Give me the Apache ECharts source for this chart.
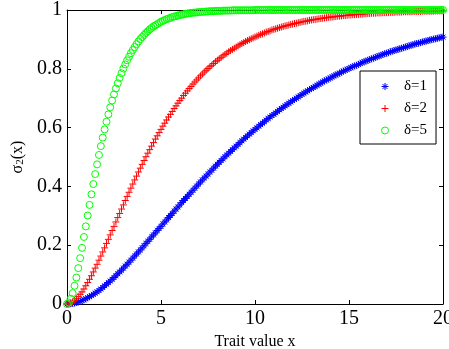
<!DOCTYPE html>
<html>
<head>
<meta charset="utf-8">
<script src="https://cdn.jsdelivr.net/npm/echarts@6/dist/echarts.min.js"></script>
<style>
html,body{margin:0;padding:0;background:#fff;}
#chart{width:449px;height:349px;}
</style>
</head>
<body>
<div id="chart"></div>
<script>
// Trait value x (sample positions)
var xs = [
0,0.1,0.2,0.3,0.4,0.5,0.6,0.7,0.8,0.9,
1,1.1,1.2,1.3,1.4,1.5,1.6,1.7,1.8,1.9,
2,2.1,2.2,2.3,2.4,2.5,2.6,2.7,2.8,2.9,
3,3.1,3.2,3.3,3.4,3.5,3.6,3.7,3.8,3.9,
4,4.1,4.2,4.3,4.4,4.5,4.6,4.7,4.8,4.9,
5,5.1,5.2,5.3,5.4,5.5,5.6,5.7,5.8,5.9,
6,6.1,6.2,6.3,6.4,6.5,6.6,6.7,6.8,6.9,
7,7.1,7.2,7.3,7.4,7.5,7.6,7.7,7.8,7.9,
8,8.1,8.2,8.3,8.4,8.5,8.6,8.7,8.8,8.9,
9,9.1,9.2,9.3,9.4,9.5,9.6,9.7,9.8,9.9,
10,10.1,10.2,10.3,10.4,10.5,10.6,10.7,10.8,10.9,
11,11.1,11.2,11.3,11.4,11.5,11.6,11.7,11.8,11.9,
12,12.1,12.2,12.3,12.4,12.5,12.6,12.7,12.8,12.9,
13,13.1,13.2,13.3,13.4,13.5,13.6,13.7,13.8,13.9,
14,14.1,14.2,14.3,14.4,14.5,14.6,14.7,14.8,14.9,
15,15.1,15.2,15.3,15.4,15.5,15.6,15.7,15.8,15.9,
16,16.1,16.2,16.3,16.4,16.5,16.6,16.7,16.8,16.9,
17,17.1,17.2,17.3,17.4,17.5,17.6,17.7,17.8,17.9,
18,18.1,18.2,18.3,18.4,18.5,18.6,18.7,18.8,18.9,
19,19.1,19.2,19.3,19.4,19.5,19.6,19.7,19.8,19.9,
20
];
// δ=1
var delta1 = [
0,0.000,0.001,0.002,0.003,0.005,0.007,0.009,0.012,0.014,
0.018,0.021,0.025,0.028,0.033,0.037,0.041,0.046,0.051,0.056,
0.062,0.067,0.073,0.078,0.084,0.090,0.096,0.103,0.109,0.115,
0.122,0.129,0.135,0.142,0.149,0.156,0.163,0.170,0.177,0.184,
0.191,0.198,0.206,0.213,0.220,0.228,0.235,0.242,0.250,0.257,
0.264,0.272,0.279,0.286,0.294,0.301,0.308,0.316,0.323,0.330,
0.337,0.345,0.352,0.359,0.366,0.373,0.380,0.387,0.394,0.401,
0.408,0.415,0.422,0.429,0.435,0.442,0.449,0.455,0.462,0.469,
0.475,0.482,0.488,0.494,0.501,0.507,0.513,0.519,0.525,0.531,
0.537,0.543,0.549,0.555,0.561,0.566,0.572,0.578,0.583,0.589,
0.594,0.599,0.605,0.610,0.615,0.620,0.626,0.631,0.636,0.641,
0.645,0.650,0.655,0.660,0.665,0.669,0.674,0.678,0.683,0.687,
0.692,0.696,0.700,0.704,0.709,0.713,0.717,0.721,0.725,0.729,
0.733,0.736,0.740,0.744,0.748,0.751,0.755,0.759,0.762,0.765,
0.769,0.772,0.776,0.779,0.782,0.785,0.789,0.792,0.795,0.798,
0.801,0.804,0.807,0.810,0.812,0.815,0.818,0.821,0.824,0.826,
0.829,0.831,0.834,0.836,0.839,0.841,0.844,0.846,0.849,0.851,
0.853,0.855,0.858,0.860,0.862,0.864,0.866,0.868,0.870,0.872,
0.874,0.876,0.878,0.880,0.882,0.884,0.886,0.887,0.889,0.891,
0.893,0.894,0.896,0.898,0.899,0.901,0.902,0.904,0.905,0.907,
0.908
];
// δ=2
var delta2 = [
0,0.001,0.003,0.007,0.012,0.018,0.025,0.033,0.041,0.051,
0.062,0.073,0.084,0.096,0.109,0.122,0.135,0.149,0.163,0.177,
0.191,0.206,0.220,0.235,0.250,0.264,0.279,0.294,0.308,0.323,
0.337,0.352,0.366,0.380,0.394,0.408,0.422,0.435,0.449,0.462,
0.475,0.488,0.501,0.513,0.525,0.537,0.549,0.561,0.572,0.583,
0.594,0.605,0.615,0.626,0.636,0.645,0.655,0.665,0.674,0.683,
0.692,0.700,0.709,0.717,0.725,0.733,0.740,0.748,0.755,0.762,
0.769,0.776,0.782,0.789,0.795,0.801,0.807,0.812,0.818,0.824,
0.829,0.834,0.839,0.844,0.849,0.853,0.858,0.862,0.866,0.870,
0.874,0.878,0.882,0.886,0.889,0.893,0.896,0.899,0.902,0.905,
0.908,0.911,0.914,0.917,0.919,0.922,0.925,0.927,0.929,0.932,
0.934,0.936,0.938,0.940,0.942,0.944,0.946,0.947,0.949,0.951,
0.952,0.954,0.955,0.957,0.958,0.960,0.961,0.962,0.963,0.965,
0.966,0.967,0.968,0.969,0.970,0.971,0.972,0.973,0.974,0.975,
0.976,0.976,0.977,0.978,0.979,0.979,0.980,0.981,0.981,0.982,
0.983,0.983,0.984,0.984,0.985,0.985,0.986,0.986,0.987,0.987,
0.988,0.988,0.989,0.989,0.989,0.990,0.990,0.990,0.991,0.991,
0.991,0.992,0.992,0.992,0.992,0.993,0.993,0.993,0.993,0.994,
0.994,0.994,0.994,0.994,0.995,0.995,0.995,0.995,0.995,0.996,
0.996,0.996,0.996,0.996,0.996,0.996,0.997,0.997,0.997,0.997,
0.997
];
// δ=5
var delta5 = [
0,0.005,0.018,0.037,0.062,0.090,0.122,0.156,0.191,0.228,
0.264,0.301,0.337,0.373,0.408,0.442,0.475,0.507,0.537,0.566,
0.594,0.620,0.645,0.669,0.692,0.713,0.733,0.751,0.769,0.785,
0.801,0.815,0.829,0.841,0.853,0.864,0.874,0.884,0.893,0.901,
0.908,0.915,0.922,0.928,0.934,0.939,0.944,0.948,0.952,0.956,
0.960,0.963,0.966,0.969,0.971,0.973,0.976,0.978,0.979,0.981,
0.983,0.984,0.985,0.987,0.988,0.989,0.990,0.991,0.991,0.992,
0.993,0.993,0.994,0.994,0.995,0.995,0.996,0.996,0.996,0.997,
0.997,0.997,0.997,0.998,0.998,0.998,0.998,0.998,0.999,0.999,
0.999,0.999,0.999,0.999,0.999,0.999,0.999,0.999,0.999,0.999,
1,1,1,1,1,1,1,1,1,1,
1,1,1,1,1,1,1,1,1,1,
1,1,1,1,1,1,1,1,1,1,
1,1,1,1,1,1,1,1,1,1,
1,1,1,1,1,1,1,1,1,1,
1,1,1,1,1,1,1,1,1,1,
1,1,1,1,1,1,1,1,1,1,
1,1,1,1,1,1,1,1,1,1,
1,1,1,1,1,1,1,1,1,1,
1,1,1,1,1,1,1,1,1,1,
1
];
var seriesNames = ['δ=1', 'δ=2', 'δ=5'];
var xTicks = [0, 5, 10, 15, 20];
var yTicks = [0, 0.2, 0.4, 0.6, 0.8, 1];

function pairs(ys) { return xs.map(function (x, i) { return [x, ys[i]]; }); }

var FONT = 'Liberation Serif';
var STAR = 'path://M5,0L5,10M0,5L10,5M1.5,1.5L8.5,8.5M1.5,8.5L8.5,1.5';
var PLUS = 'path://M5,0L5,10M0,5L10,5';
var CIRC = 'path://M10,5A5,5,0,1,1,0,5A5,5,0,1,1,10,5Z';

var chart = echarts.init(document.getElementById('chart'), null, {renderer: 'canvas'});

function tickAxis(extra) {
  return Object.assign({
    type: 'value',
    axisLine: {show: true, onZero: false, lineStyle: {color: '#000', width: 1}},
    axisTick: {show: true, inside: true, length: 4, lineStyle: {color: '#000', width: 1}},
    splitLine: {show: false}
  }, extra);
}

chart.setOption({
  animation: false,
  backgroundColor: '#fff',
  grid: {left: 67, right: 6, top: 10, bottom: 45, containLabel: false, outerBoundsMode: 'none'},
  xAxis: [
    tickAxis({
      position: 'bottom', min: xTicks[0], max: xTicks[xTicks.length - 1], interval: xTicks[1] - xTicks[0],
      name: 'Trait value x', nameLocation: 'middle', nameGap: 23,
      nameTextStyle: {fontFamily: FONT, fontSize: 16, color: '#000'},
      axisLabel: {fontFamily: FONT, fontSize: 20, color: '#000', margin: 5}
    }),
    tickAxis({
      position: 'top', min: xTicks[0], max: xTicks[xTicks.length - 1], interval: xTicks[1] - xTicks[0],
      axisLabel: {show: false}
    })
  ],
  yAxis: [
    tickAxis({
      position: 'left', min: yTicks[0], max: yTicks[yTicks.length - 1], interval: yTicks[1] - yTicks[0],
      name: '{a|σ}{s|2}{a|(x)}', nameLocation: 'middle', nameGap: 41, nameRotate: 90,
      nameTextStyle: {
        color: '#000',
        rich: {
          a: {fontFamily: FONT, fontSize: 16, color: '#000'},
          s: {fontFamily: FONT, fontSize: 11, color: '#000', verticalAlign: 'bottom', padding: [6, 0, 0, 0]}
        }
      },
      axisLabel: {fontFamily: FONT, fontSize: 20, color: '#000', margin: 5}
    }),
    tickAxis({
      position: 'right', min: yTicks[0], max: yTicks[yTicks.length - 1], interval: yTicks[1] - yTicks[0],
      axisLabel: {show: false}
    })
  ],
  legend: {
    orient: 'vertical', left: 360, top: 71,
    padding: [8, 9, 6, 21],
    itemWidth: 28, itemHeight: 7, itemGap: 7,
    borderColor: '#000', borderWidth: 1, borderRadius: 0, backgroundColor: '#fff',
    itemStyle: {borderWidth: 1},
    textStyle: {fontFamily: FONT, fontSize: 15, lineHeight: 15, color: '#000'},
    data: seriesNames
  },
  series: [
    {
      name: seriesNames[0], type: 'scatter', data: pairs(delta1),
      symbol: STAR, symbolSize: 7,
      itemStyle: {color: '#0000ff', borderColor: '#0000ff', borderWidth: 1, opacity: 1}
    },
    {
      name: seriesNames[1], type: 'scatter', data: pairs(delta2),
      symbol: PLUS, symbolSize: 7,
      itemStyle: {color: '#ff0000', borderColor: '#ff0000', borderWidth: 1, opacity: 1}
    },
    {
      name: seriesNames[2], type: 'scatter', data: pairs(delta5),
      symbol: CIRC, symbolSize: 7,
      itemStyle: {color: 'rgba(0,0,0,0)', borderColor: '#00ff00', borderWidth: 1, opacity: 1}
    }
  ]
});
</script>
</body>
</html>
